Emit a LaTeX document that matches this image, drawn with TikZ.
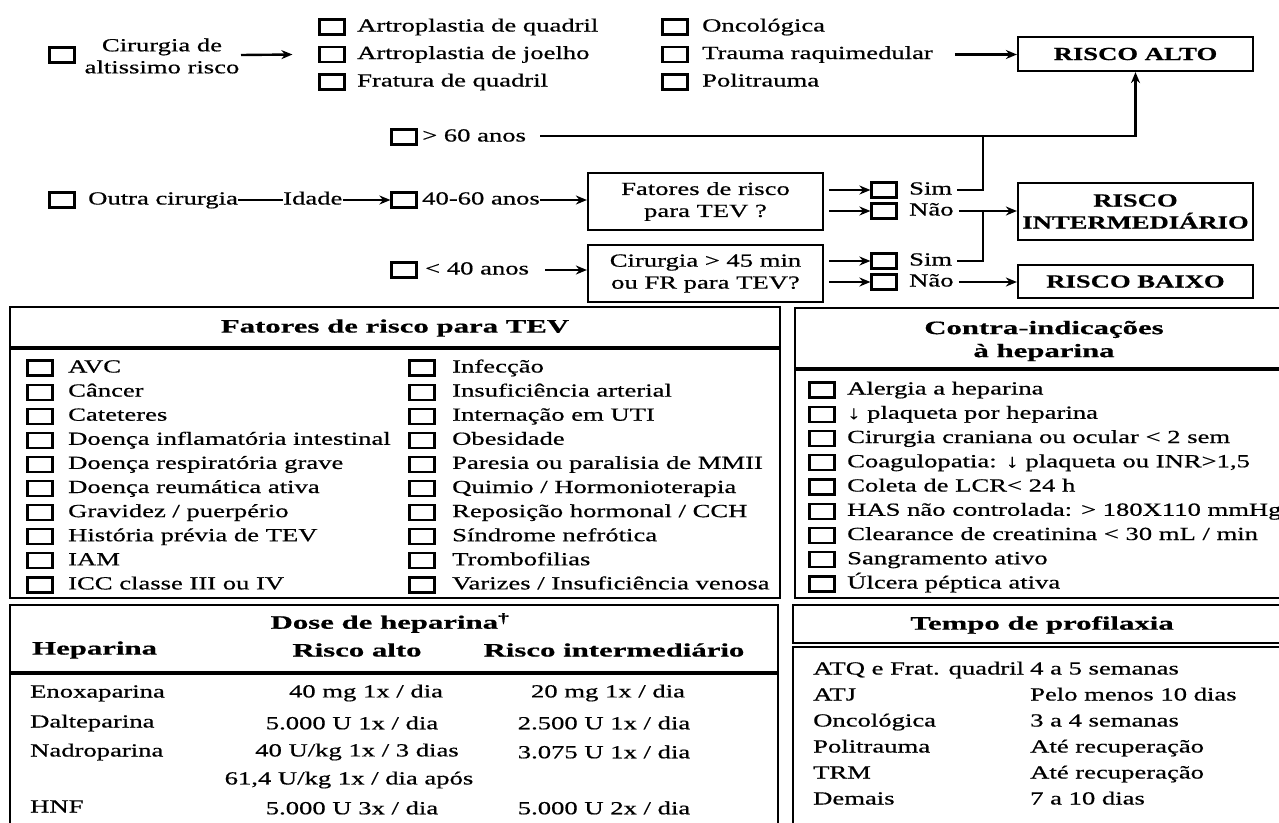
\documentclass[tikz,border=0pt]{standalone}
\usepackage{fontspec}
\setmainfont{Liberation Serif}[FakeStretch=1.44, FakeBold=0.6]
\newfontfamily\hdfont{Liberation Serif}[FakeStretch=1.62, FakeBold=0.6]
\usetikzlibrary{arrows.meta}
\newcommand\fsz{\fontsize{18.5}{22}\selectfont}
\newcommand\hdsz{\fontsize{19}{23}\selectfont\hdfont\bfseries}
\tikzset{
  base/.style={font=\fsz, inner sep=0pt},
  txt/.style={base, anchor=west, text height=12pt, text depth=3pt},
  cb/.style={draw, line width=2.2pt, minimum width=25pt, minimum height=15pt, inner sep=0pt},
  arr/.style={line width=2.4pt, -{Stealth[length=11pt,width=9pt]}},
  ln/.style={line width=2.4pt},
  rbox/.style={draw, line width=2.2pt, font=\fsz\bfseries, align=center, inner sep=0pt, minimum width=235pt},
  qbox/.style={draw, line width=2.2pt, font=\fsz, align=center, inner sep=0pt, minimum width=235pt, minimum height=57pt},
  frame/.style={draw, line width=2.2pt},
  hd/.style={font=\hdsz, inner sep=0pt, align=center},
}
\begin{document}
\begin{tikzpicture}[x=1pt,y=-1pt]
\useasboundingbox (0,0) rectangle (1279,822);
\clip (0,0) rectangle (1279,822);
\fill[white] (0,0) rectangle (1279,822);

% ---------- flowchart ----------
\node[cb] (c0) at (62,55) {};
\node[base, align=center] (t0) at (162,56) {Cirurgia de\\altissimo risco};
\foreach \t [count=\i] in {{Artroplastia de quadril},{Artroplastia de joelho},{Fratura de quadril}} {
  \node[cb] (l\i) at (332,{27+27.5*(\i-1)}) {};
  \node[txt] (lt\i) at (357,{27+27.5*(\i-1)}) {\t};
}
\foreach \t [count=\i] in {{Oncológica},{Trauma raquimedular},{Politrauma}} {
  \node[cb] (r\i) at (675,{27+27.5*(\i-1)}) {};
  \node[txt] (rt\i) at (702,{27+27.5*(\i-1)}) {\t};
}
\node[rbox, minimum height=34pt] (ra) at (1135.5,54) {RISCO ALTO};
\node[rbox, minimum height=57pt] (ri) at (1135.5,211.5) {RISCO\\INTERMEDIÁRIO};
\node[rbox, minimum height=33pt] (rb) at (1135.5,281.5) {RISCO BAIXO};

\draw[arr] (241,55) coordinate (a0) -- ([xshift=-26pt]l2.west);
\draw[arr] ([xshift=22pt]rt2.east) -- (ra.west |- rt2.east);

\node[cb] (g60) at (404,137) {};
\node[txt] (g60t) at (422,137) {> 60 anos};
\coordinate (j) at (983,136);
\draw[arr] ([xshift=14pt]g60t.east |- j) -| (ra.south);

\node[cb] (c1) at (62,200) {};
\node[txt] (oc) at (88,200) {Outra cirurgia};
\node[txt] (id) at (283,200) {Idade};
\draw[ln] (oc.east) -- (id.west);
\node[cb] (c46) at (404,200) {};
\node[txt] (t46) at (422,200) {40-60 anos};
\draw[arr] (id.east) -- (c46.west);
\node[qbox] (fq) at (705.5,201.5) {Fatores de risco\\para TEV ?};
\draw[arr] (t46.east) -- (fq.west |- t46.east);

\node[cb] (c40) at (404,270) {};
\node[txt] (t40) at (425,270) {< 40 anos};
\node[qbox] (cq) at (705.5,273.5) {Cirurgia > 45 min\\ou FR para TEV?};
\draw[arr] ([xshift=16pt]t40.east) -- (cq.west |- t40.east);

\node[cb] (s1) at (884,190) {};
\node[txt] (s1t) at (909,190) {Sim};
\node[cb] (n1) at (884,211) {};
\node[txt] (n1t) at (909,211) {Não};
\node[cb] (s2) at (884,261) {};
\node[txt] (s2t) at (909,261) {Sim};
\node[cb] (n2) at (884,282) {};
\node[txt] (n2t) at (909,282) {Não};
\draw[arr] ([xshift=5pt]fq.east |- s1) -- (s1.west);
\draw[arr] ([xshift=5pt]fq.east |- n1) -- (n1.west);
\draw[arr] ([xshift=5pt]cq.east |- s2) -- (s2.west);
\draw[arr] ([xshift=5pt]cq.east |- n2) -- (n2.west);

\coordinate (j2) at (983,211);
\draw[ln] ([xshift=5pt]s1t.east) -| (j);
\draw[arr] ([xshift=5pt]n1t.east) -- (ri.west |- n1t.east);
\draw[ln] ([xshift=5pt]s2t.east) -| (j2);
\draw[arr] ([xshift=5pt]n2t.east) -- (rb.west |- n2t.east);

% ---------- Fatores de risco ----------
\draw[frame] (10,307) rectangle (780,347);
\draw[frame] (10,349) rectangle (780,598);
\node[hd] (hf) at (395,328) {Fatores de risco para TEV};
\foreach \t [count=\i from 0] in {{AVC},{Câncer},{Cateteres},{Doença inflamatória intestinal},{Doença respiratória grave},{Doença reumática ativa},{Gravidez / puerpério},{História prévia de TEV},{IAM},{ICC classe III ou IV}} {
  \node[cb] (fa\i) at (40,{368+24.1*\i}) {};
  \node[txt] (fat\i) at (68,{368+24.1*\i}) {\t};
}
\foreach \t [count=\i from 0] in {{Infecção},{Insuficiência arterial},{Internação em UTI},{Obesidade},{Paresia ou paralisia de MMII},{Quimio / Hormonioterapia},{Reposição hormonal / CCH},{Síndrome nefrótica},{Trombofilias},{Varizes / Insuficiência venosa}} {
  \node[cb] (fb\i) at (422,{368+24.1*\i}) {};
  \node[txt] (fbt\i) at (452,{368+24.1*\i}) {\t};
}

% ---------- Contra-indicações ----------
\draw[frame] (795,308) rectangle (1300,368);
\draw[frame] (795,370) rectangle (1300,598);
\node[hd] (hc) at (1044,341) {Contra-indicações\\à heparina};
\foreach \t [count=\i from 0] in {{Alergia a heparina},{↓ plaqueta por heparina},{Cirurgia craniana ou ocular < 2 sem},{Coagulopatia: ↓ plaqueta ou INR>1,5},{Coleta de LCR< 24 h},{HAS não controlada: > 180X110 mmHg},{Clearance de creatinina < 30 mL / min},{Sangramento ativo},{Úlcera péptica ativa}} {
  \node[cb] (ci\i) at (822,{390+24.25*\i}) {};
  \node[txt] (cit\i) at (847,{390+24.25*\i}) {\t};
}

% ---------- Dose de heparina ----------
\draw[frame] (10,605) rectangle (778,672);
\draw[frame] (10,674) rectangle (778,840);
\node[hd] (hd1) at (390,623) {Dose de heparina\textsuperscript{†}};
\node[hd, anchor=west] (hd2) at (32,650) {Heparina};
\node[hd] (hd3) at (357,650) {Risco alto};
\node[hd] (hd4) at (614,650) {Risco intermediário};
\node[txt] (da0) at (30,693) {Enoxaparina};
\node[base] (db0) at (366,693) {40 mg 1x / dia};
\node[base] (dc0) at (608,693) {20 mg 1x / dia};
\node[txt] (da1) at (30,723) {Dalteparina};
\node[base] (db1) at (352,723) {5.000 U 1x / dia};
\node[base] (dc1) at (604,723) {2.500 U 1x / dia};
\node[txt] (da2) at (30,752) {Nadroparina};
\node[base] (db2) at (357,752) {40 U/kg 1x / 3 dias};
\node[base] (dc2) at (604,752) {3.075 U 1x / dia};
\node[base] (db3) at (349,780) {61,4 U/kg 1x / dia após};
\node[txt] (da4) at (30,808) {HNF};
\node[base] (db4) at (352,808) {5.000 U 3x / dia};
\node[base] (dc4) at (604,808) {5.000 U 2x / dia};

% ---------- Tempo de profilaxia ----------
\draw[frame] (793,605) rectangle (1300,643);
\draw[frame] (793,647) rectangle (1300,840);
\node[hd] (ht) at (1042,625) {Tempo de profilaxia};
\foreach \a/\b [count=\i from 0] in {ATQ e Frat. quadril/4 a 5 semanas, ATJ/Pelo menos 10 dias, Oncológica/3 a 4 semanas, Politrauma/Até recuperação, TRM/Até recuperação, Demais/7 a 10 dias} {
  \node[txt] (ta\i) at (813,{670+26*\i}) {\a};
  \node[txt] (tb\i) at (1030,{670+26*\i}) {\b};
}
\end{tikzpicture}
\end{document}
